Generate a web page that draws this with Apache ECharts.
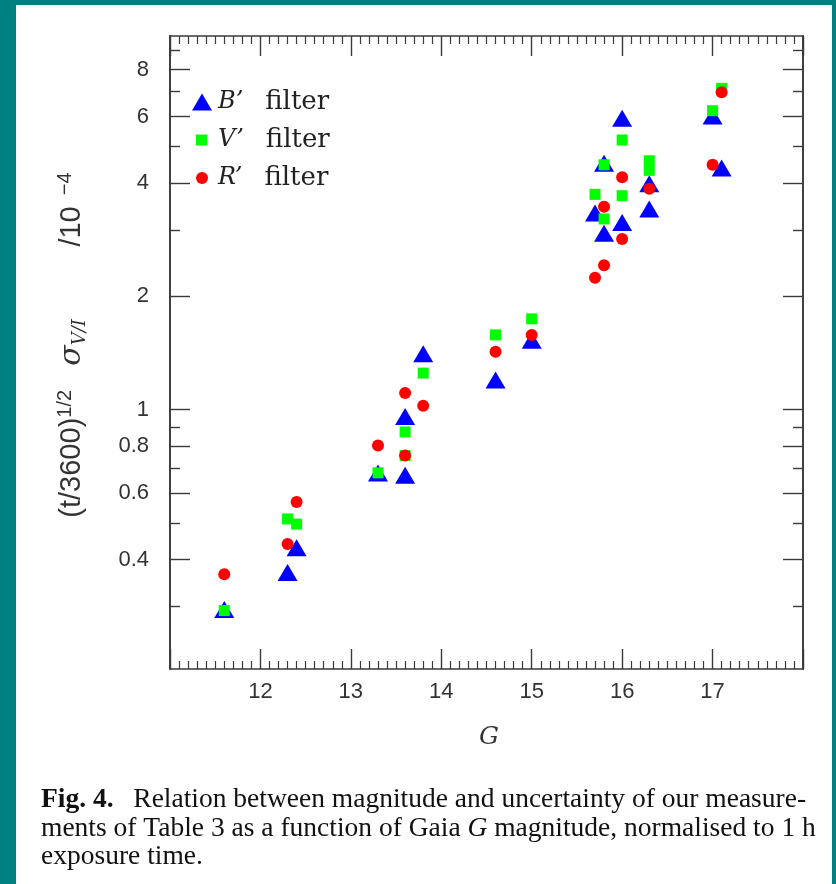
<!DOCTYPE html>
<html>
<head>
<meta charset="utf-8">
<script src="https://cdn.jsdelivr.net/npm/echarts@6/dist/echarts.min.js"></script>
<style>
  html, body { margin: 0; padding: 0; background: #008080; }
  #panel { position: absolute; left: 16px; top: 5px; width: 816px; height: 879px; background: #fff; }
  #chart { position: absolute; left: 0; top: 0; width: 836px; height: 884px; }
</style>
</head>
<body>
<div id="panel"></div>
<div id="chart"></div>
<script>
// G magnitude and normalised uncertainty
const bG     = [11.6, 12.3, 12.4, 13.3, 13.6, 13.6, 13.8, 14.6, 15.0, 15.7, 15.8, 15.8, 16.0, 16.0, 16.3, 16.3, 17.0, 17.1];
const bSigma = [0.295, 0.370, 0.430, 0.679, 0.670, 0.960, 1.408, 1.20, 1.53, 3.33, 4.51, 2.94, 5.94, 3.14, 3.98, 3.41, 6.02, 4.38];

const vG     = [11.6, 12.3, 12.4, 13.3, 13.6, 13.6, 13.8, 14.6, 15.0, 15.7, 15.8, 15.8, 16.0, 16.0, 16.3, 16.3, 17.0, 17.1];
const vSigma = [0.293, 0.513, 0.497, 0.680, 0.756, 0.873, 1.251, 1.58, 1.743, 3.73, 4.47, 3.21, 5.20, 3.70, 4.58, 4.32, 6.22, 7.13];

const rG     = [11.6, 12.3, 12.4, 13.3, 13.6, 13.6, 13.8, 14.6, 15.0, 15.7, 15.8, 15.8, 16.0, 16.0, 16.3, 17.0, 17.1];
const rSigma = [0.366, 0.440, 0.569, 0.804, 0.756, 1.107, 1.025, 1.425, 1.58, 2.24, 3.46, 2.42, 4.14, 2.84, 3.86, 4.47, 6.96];

// tick labels
const yMajorTicks = [0.4, 0.6, 0.8, 1, 2, 4, 6, 8];
const yMinorTicks = [0.3, 0.5, 0.7, 0.9, 3, 5, 7, 9];

const frameColor = '#3a3a3a';
const tickFont = 'Liberation Sans';
const serif = 'DejaVu Serif';

const chart = echarts.init(document.getElementById('chart'));

const pairs = (xs, ys) => xs.map((x, i) => [x, ys[i]]);

// x axes, bottom with labels and top without
const makeX = (position, showLabel) => ({
  type: 'value',
  position: position,
  min: 11,
  max: 18,
  interval: 1,
  axisLine: { show: true, onZero: false, lineStyle: { color: frameColor, width: 1.6 } },
  axisTick: { show: true, inside: true, length: 20, lineStyle: { color: frameColor, width: 1.4 } },
  minorTick: { show: true, splitNumber: 10, length: 8, lineStyle: { color: frameColor, width: 1.2 } },
  splitLine: { show: false },
  axisLabel: {
    show: showLabel,
    showMinLabel: false,
    showMaxLabel: false,
    margin: 12,
    fontFamily: tickFont,
    fontSize: 22,
    color: '#333'
  }
});

// y axes on a log scale; long ticks and short ticks are separate axes
const makeY = (position, ticks, len, showLabel) => ({
  type: 'log',
  logBase: 10,
  position: position,
  min: 0.205,
  max: 9.82,
  axisLine: { show: true, onZero: false, lineStyle: { color: frameColor, width: 1.6 } },
  axisTick: { show: true, inside: true, length: len, customValues: ticks, lineStyle: { color: frameColor, width: 1.4 } },
  splitLine: { show: false },
  minorTick: { show: false },
  axisLabel: {
    show: showLabel,
    customValues: ticks,
    margin: 21,
    fontFamily: tickFont,
    fontSize: 22,
    color: '#333',
    formatter: v => String(v)
  }
});

// legend text: italic filter letter, then "filter"; s is a spacer so all texts start together
const legendText = pad => ({
  fontFamily: serif,
  fontSize: 24,
  color: '#222',
  rich: {
    s: { width: pad },
    i: { fontFamily: serif, fontStyle: 'italic', fontSize: 24, color: '#222', padding: [0, 22, 0, 0] },
    f: { fontFamily: serif, fontSize: 26, color: '#222' }
  }
});
const legendFmt = name => {
  const parts = name.split(' ');
  return '{s|}{i|' + parts[0] + '}{f|' + parts.slice(1).join(' ') + '}';
};

const option = {
  backgroundColor: 'transparent',
  animation: false,
  grid: { left: 170, right: 33, top: 36, bottom: 215 },
  xAxis: [makeX('bottom', true), makeX('top', false)],
  yAxis: [
    makeY('left', yMajorTicks, 20, true),
    makeY('left', yMinorTicks, 10, false),
    makeY('right', yMajorTicks, 20, false),
    makeY('right', yMinorTicks, 10, false)
  ],
  legend: [
    { data: ['B’ filter'], left: 192, top: 89, padding: 0, itemWidth: 20, itemHeight: 17, textStyle: legendText(1), formatter: legendFmt },
    { data: ['V’ filter'], left: 196, top: 127, padding: 0, itemWidth: 11, itemHeight: 11, textStyle: legendText(6), formatter: legendFmt },
    { data: ['R’ filter'], left: 196, top: 165, padding: 0, itemWidth: 12, itemHeight: 12, textStyle: legendText(5), formatter: legendFmt }
  ],
  series: [
    {
      name: 'B’ filter',
      type: 'scatter',
      symbol: 'triangle',
      symbolSize: [20, 17],
      itemStyle: { color: '#0000ff', opacity: 1 },
      data: pairs(bG, bSigma)
    },
    {
      name: 'V’ filter',
      type: 'scatter',
      symbol: 'rect',
      symbolSize: 11,
      itemStyle: { color: '#00ff00', opacity: 1 },
      data: pairs(vG, vSigma)
    },
    {
      name: 'R’ filter',
      type: 'scatter',
      symbol: 'circle',
      symbolSize: 12,
      itemStyle: { color: '#ff0000', opacity: 1 },
      data: pairs(rG, rSigma)
    }
  ],
  graphic: [
    // x axis title
    {
      type: 'text',
      left: 479,
      top: 725,
      style: { text: 'G', fontFamily: serif, fontStyle: 'italic', fontSize: 25, fill: '#333' }
    },
    // y axis title, rotated
    {
      type: 'text',
      x: 72,
      y: 345,
      rotation: Math.PI / 2,
      style: {
        text: '(t/3600){sup|1/2}   {sig|σ}{sub|V/I}         /10{sup|  −4}',
        align: 'center',
        verticalAlign: 'middle',
        fontFamily: tickFont,
        fontSize: 29,
        fill: '#333',
        rich: {
          sup: { fontFamily: tickFont, fontSize: 20, lineHeight: 16, verticalAlign: 'top', fill: '#333' },
          sub: { fontFamily: serif, fontStyle: 'italic', fontSize: 18, lineHeight: 14, verticalAlign: 'bottom', fill: '#333' },
          sig: { fontFamily: serif, fontStyle: 'italic', fontSize: 30, lineHeight: 34, fill: '#333' }
        }
      }
    },
    // caption
    {
      type: 'text',
      left: 41,
      top: 786,
      style: {
        text: '{b|Fig. 4.}  Relation between magnitude and uncertainty of our measure-\n' +
              'ments of Table 3 as a function of Gaia {i|G} magnitude, normalised to 1 h\n' +
              'exposure time.',
        fontFamily: 'Liberation Serif',
        fontSize: 27.5,
        lineHeight: 28.5,
        fill: '#111',
        rich: {
          b: { fontFamily: 'Liberation Serif', fontWeight: 'bold', fontSize: 27.5, lineHeight: 28.5, fill: '#111', padding: [0, 6, 0, 0] },
          i: { fontFamily: 'Liberation Serif', fontStyle: 'italic', fontSize: 27.5, lineHeight: 28.5, fill: '#111' }
        }
      }
    }
  ]
};

chart.setOption(option);
</script>
</body>
</html>
